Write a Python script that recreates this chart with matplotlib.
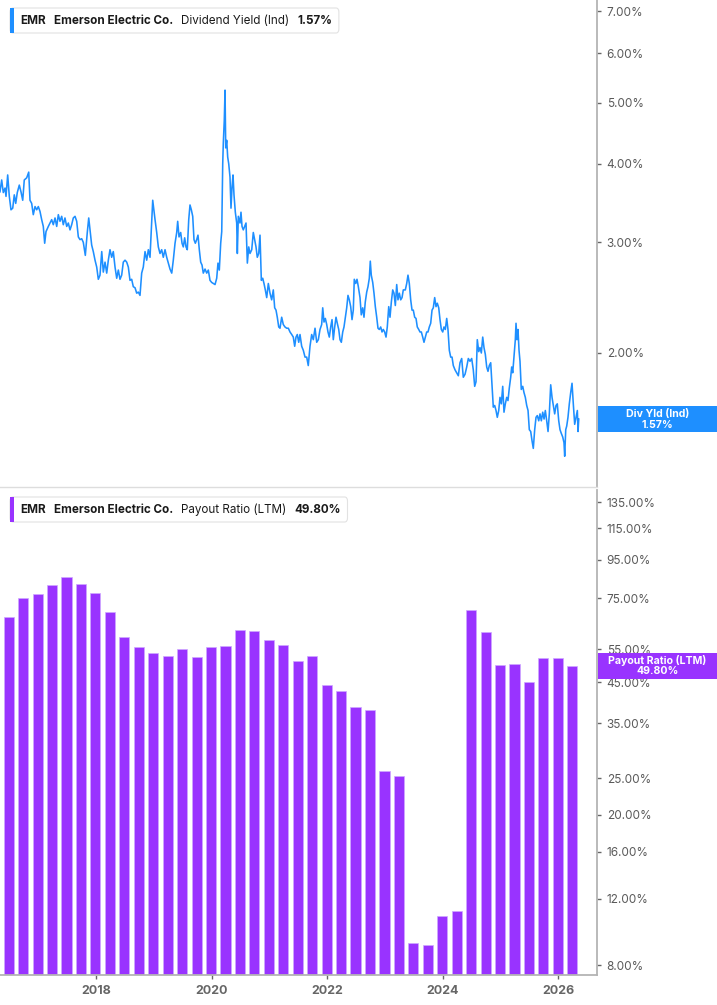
import matplotlib
matplotlib.use('Agg')
import matplotlib.pyplot as plt
from matplotlib.patches import FancyBboxPatch, Rectangle
from matplotlib.ticker import FixedLocator, NullLocator

plt.rcParams['font.family'] = ['Inter', 'DejaVu Sans']

# Dividend yield (Ind), % - decimal years
yield_dates = [
    2016.339, 2016.368, 2016.396, 2016.426, 2016.443, 2016.472, 2016.500, 2016.529, 2016.559, 2016.586,
    2016.611, 2016.638, 2016.673, 2016.702, 2016.732, 2016.759, 2016.801, 2016.836, 2016.858, 2016.887,
    2016.915, 2016.945, 2016.974, 2017.002, 2017.031, 2017.060, 2017.088, 2017.112, 2017.135, 2017.175,
    2017.204, 2017.233, 2017.261, 2017.291, 2017.320, 2017.348, 2017.377, 2017.406, 2017.434, 2017.463,
    2017.493, 2017.521, 2017.550, 2017.579, 2017.607, 2017.637, 2017.666, 2017.694, 2017.723, 2017.752,
    2017.780, 2017.815, 2017.849, 2017.874, 2017.896, 2017.925, 2017.953, 2017.983, 2018.012, 2018.040,
    2018.069, 2018.099, 2018.126, 2018.156, 2018.185, 2018.213, 2018.242, 2018.271, 2018.299, 2018.329,
    2018.358, 2018.386, 2018.415, 2018.444, 2018.472, 2018.502, 2018.531, 2018.559, 2018.588, 2018.617,
    2018.645, 2018.675, 2018.704, 2018.732, 2018.761, 2018.790, 2018.818, 2018.848, 2018.877, 2018.905,
    2018.934, 2018.981, 2019.021, 2019.050, 2019.078, 2019.107, 2019.136, 2019.164, 2019.194, 2019.223,
    2019.251, 2019.280, 2019.310, 2019.337, 2019.367, 2019.396, 2019.413, 2019.436, 2019.465, 2019.488,
    2019.510, 2019.534, 2019.557, 2019.579, 2019.604, 2019.626, 2019.649, 2019.673, 2019.695, 2019.718,
    2019.742, 2019.764, 2019.787, 2019.811, 2019.834, 2019.856, 2019.886, 2019.915, 2019.943, 2019.972,
    2020.001, 2020.029, 2020.059, 2020.088, 2020.110, 2020.133, 2020.157, 2020.175, 2020.192, 2020.202,
    2020.219, 2020.232, 2020.244, 2020.261, 2020.278, 2020.296, 2020.318, 2020.335, 2020.353, 2020.370,
    2020.387, 2020.410, 2020.434, 2020.445, 2020.462, 2020.491, 2020.508, 2020.526, 2020.548, 2020.572,
    2020.595, 2020.618, 2020.642, 2020.664, 2020.694, 2020.721, 2020.745, 2020.768, 2020.790, 2020.815,
    2020.837, 2020.860, 2020.884, 2020.906, 2020.929, 2020.953, 2020.981, 2021.010, 2021.039, 2021.067,
    2021.091, 2021.114, 2021.136, 2021.161, 2021.183, 2021.212, 2021.240, 2021.269, 2021.299, 2021.327,
    2021.356, 2021.386, 2021.413, 2021.437, 2021.460, 2021.482, 2021.507, 2021.529, 2021.558, 2021.586,
    2021.616, 2021.645, 2021.672, 2021.702, 2021.731, 2021.759, 2021.789, 2021.818, 2021.846, 2021.875,
    2021.904, 2021.922, 2021.944, 2021.967, 2021.991, 2022.013, 2022.036, 2022.060, 2022.083, 2022.105,
    2022.129, 2022.152, 2022.174, 2022.199, 2022.221, 2022.244, 2022.268, 2022.290, 2022.313, 2022.337,
    2022.359, 2022.382, 2022.406, 2022.429, 2022.451, 2022.468, 2022.493, 2022.515, 2022.538, 2022.567,
    2022.589, 2022.614, 2022.636, 2022.658, 2022.683, 2022.705, 2022.728, 2022.745, 2022.762, 2022.787,
    2022.809, 2022.832, 2022.856, 2022.878, 2022.901, 2022.925, 2022.948, 2022.970, 2022.994, 2023.017,
    2023.039, 2023.064, 2023.086, 2023.109, 2023.133, 2023.155, 2023.178, 2023.202, 2023.224, 2023.247,
    2023.271, 2023.294, 2023.316, 2023.351, 2023.375, 2023.397, 2023.420, 2023.444, 2023.467, 2023.489,
    2023.513, 2023.536, 2023.558, 2023.583, 2023.605, 2023.628, 2023.652, 2023.674, 2023.697, 2023.721,
    2023.743, 2023.766, 2023.790, 2023.813, 2023.835, 2023.859, 2023.882, 2023.904, 2023.929, 2023.951,
    2023.974, 2023.998, 2024.020, 2024.043, 2024.067, 2024.089, 2024.112, 2024.136, 2024.159, 2024.181,
    2024.211, 2024.240, 2024.268, 2024.297, 2024.326, 2024.354, 2024.384, 2024.413, 2024.441, 2024.470,
    2024.499, 2024.527, 2024.551, 2024.574, 2024.596, 2024.621, 2024.643, 2024.666, 2024.690, 2024.712,
    2024.735, 2024.759, 2024.781, 2024.804, 2024.828, 2024.851, 2024.873, 2024.897, 2024.920, 2024.942,
    2024.967, 2024.989, 2025.012, 2025.036, 2025.058, 2025.081, 2025.105, 2025.127, 2025.150, 2025.174,
    2025.191, 2025.209, 2025.231, 2025.254, 2025.266, 2025.283, 2025.300, 2025.318, 2025.335, 2025.357,
    2025.382, 2025.404, 2025.427, 2025.451, 2025.474, 2025.496, 2025.520, 2025.543, 2025.565, 2025.589,
    2025.612, 2025.634, 2025.659, 2025.681, 2025.704, 2025.728, 2025.751, 2025.773, 2025.797, 2025.820,
    2025.842, 2025.866, 2025.889, 2025.911, 2025.935, 2025.958, 2025.980, 2026.005, 2026.027, 2026.049,
    2026.074, 2026.096, 2026.108, 2026.126, 2026.143, 2026.165, 2026.188, 2026.212, 2026.235, 2026.257,
    2026.281, 2026.304, 2026.327, 2026.339, 2026.351,
]
yield_values = [
    3.61, 3.77, 3.60, 3.66, 3.55, 3.84, 3.55, 3.38, 3.40, 3.57,
    3.46, 3.60, 3.70, 3.61, 3.50, 3.77, 3.80, 3.88, 3.50, 3.46,
    3.32, 3.42, 3.38, 3.42, 3.36, 3.26, 3.18, 2.99, 3.12, 3.18,
    3.22, 3.26, 3.20, 3.28, 3.18, 3.32, 3.24, 3.30, 3.20, 3.28,
    3.18, 3.22, 3.14, 3.20, 3.28, 3.30, 3.24, 3.06, 3.03, 3.04,
    3.00, 2.86, 3.11, 3.28, 3.14, 2.97, 2.90, 2.81, 2.74, 2.62,
    2.66, 2.90, 2.69, 2.79, 2.68, 2.81, 2.92, 2.84, 2.90, 2.74,
    2.63, 2.71, 2.62, 2.66, 2.79, 2.81, 2.79, 2.74, 2.61, 2.62,
    2.55, 2.54, 2.49, 2.50, 2.47, 2.68, 2.74, 2.90, 2.81, 2.92,
    2.84, 3.50, 3.26, 3.11, 2.95, 2.88, 2.92, 2.84, 2.92, 2.84,
    2.78, 2.72, 2.68, 2.81, 2.99, 3.11, 3.24, 3.06, 3.11, 2.99,
    2.95, 3.05, 2.95, 2.92, 3.26, 3.44, 3.38, 3.30, 3.03, 2.99,
    3.03, 3.08, 2.92, 2.79, 2.76, 2.68, 2.72, 2.68, 2.71, 2.61,
    2.59, 2.58, 2.57, 2.63, 2.78, 2.71, 2.99, 3.12, 4.00, 4.31,
    4.69, 5.24, 4.24, 4.36, 4.10, 4.00, 3.81, 3.40, 3.67, 3.84,
    3.57, 3.35, 3.22, 2.88, 3.30, 3.22, 3.35, 3.18, 3.14, 3.18,
    3.22, 2.78, 2.95, 2.88, 2.92, 3.11, 3.03, 2.95, 2.84, 2.88,
    3.08, 2.61, 2.63, 2.58, 2.52, 2.45, 2.58, 2.49, 2.43, 2.52,
    2.36, 2.34, 2.28, 2.20, 2.19, 2.28, 2.22, 2.20, 2.19, 2.19,
    2.16, 2.14, 2.12, 2.05, 2.12, 2.14, 2.08, 2.14, 2.05, 2.02,
    1.97, 1.97, 1.91, 2.05, 2.14, 2.10, 2.19, 2.08, 2.10, 2.18,
    2.22, 2.36, 2.24, 2.27, 2.22, 2.16, 2.12, 2.20, 2.26, 2.10,
    2.20, 2.28, 2.23, 2.18, 2.10, 2.08, 2.16, 2.20, 2.28, 2.36,
    2.47, 2.43, 2.37, 2.26, 2.34, 2.62, 2.58, 2.62, 2.55, 2.45,
    2.30, 2.36, 2.28, 2.41, 2.50, 2.55, 2.63, 2.80, 2.66, 2.59,
    2.49, 2.37, 2.28, 2.19, 2.18, 2.20, 2.16, 2.18, 2.16, 2.12,
    2.20, 2.37, 2.28, 2.41, 2.52, 2.49, 2.38, 2.57, 2.43, 2.49,
    2.43, 2.45, 2.52, 2.52, 2.58, 2.66, 2.58, 2.43, 2.34, 2.34,
    2.28, 2.27, 2.20, 2.18, 2.16, 2.16, 2.12, 2.08, 2.12, 2.16,
    2.16, 2.20, 2.23, 2.34, 2.36, 2.45, 2.37, 2.40, 2.36, 2.26,
    2.18, 2.16, 2.20, 2.18, 2.27, 2.18, 2.02, 1.97, 1.97, 1.91,
    1.88, 1.86, 1.84, 1.93, 1.96, 1.83, 1.85, 1.90, 1.96, 1.94,
    1.96, 1.88, 1.77, 1.80, 2.10, 2.01, 2.04, 2.00, 2.12, 2.04,
    1.99, 1.90, 1.87, 1.91, 1.93, 1.77, 1.64, 1.65, 1.62, 1.58,
    1.62, 1.70, 1.66, 1.77, 1.61, 1.66, 1.70, 1.68, 1.76, 1.83,
    1.90, 1.86, 1.97, 2.10, 2.23, 2.10, 2.18, 2.02, 1.94, 1.75,
    1.77, 1.73, 1.70, 1.65, 1.62, 1.51, 1.50, 1.45, 1.41, 1.51,
    1.58, 1.59, 1.56, 1.60, 1.56, 1.61, 1.57, 1.62, 1.56, 1.50,
    1.60, 1.78, 1.70, 1.65, 1.60, 1.65, 1.66, 1.56, 1.51, 1.49,
    1.47, 1.44, 1.37, 1.51, 1.53, 1.58, 1.66, 1.73, 1.79, 1.66,
    1.54, 1.58, 1.62, 1.50, 1.57,
]

# Payout ratio (LTM), % - quarterly
payout_dates = [
    2016.49, 2016.74, 2016.99, 2017.24, 2017.49, 2017.74, 2017.99, 2018.24,
    2018.49, 2018.74, 2018.99, 2019.24, 2019.49, 2019.74, 2019.99, 2020.24,
    2020.49, 2020.74, 2020.99, 2021.24, 2021.49, 2021.74, 2021.99, 2022.24,
    2022.49, 2022.74, 2022.99, 2023.24, 2023.49, 2023.74, 2023.99, 2024.24,
    2024.49, 2024.74, 2024.99, 2025.24, 2025.49, 2025.74, 2025.99, 2026.24,
]
payout_values = [
    66.8, 75.0, 77.0, 81.3, 85.3, 81.7, 77.5, 69.0,
    59.1, 55.7, 53.8, 52.7, 55.0, 52.4, 55.7, 56.1,
    61.7, 61.5, 58.1, 56.5, 51.3, 52.7, 44.1, 42.5,
    38.6, 37.9, 26.2, 25.4, 9.15, 9.04, 10.8, 11.1,
    69.9, 61.1, 49.9, 50.2, 45.1, 52.1, 52.1, 49.8,
]

top_ticks = [7, 6, 5, 4, 3, 2]
bottom_ticks = [135, 115, 95, 75, 55, 45, 35, 25, 20, 16, 12, 8]
year_ticks = [2018, 2020, 2022, 2024, 2026]

blue = '#1e8fff'
purple = '#9933ff'
W, H = 717, 1005

fig = plt.figure(figsize=(W / 100, H / 100), dpi=100)
fig.patch.set_facecolor('white')

ax1 = fig.add_axes([0, 1 - 487 / H, 597 / W, 487 / H])
ax2 = fig.add_axes([0, 1 - 975 / H, 597 / W, 485 / H])

xlim = (2016.339, 2026.667)

ax1.plot(yield_dates, yield_values, color=blue, lw=1.15)
ax1.set_yscale('log')
ax1.set_ylim(1.224, 7.29)

# bars start below the visible range so they reach the x axis
ax2.set_yscale('log')
base = 1.0
ax2.bar(payout_dates, [v - base for v in payout_values], width=0.175,
        bottom=base, color=purple, edgecolor='#cfa8ff', linewidth=0.5)
ax2.set_ylim(7.53, 145.4)

for ax, ticks in ((ax1, top_ticks), (ax2, bottom_ticks)):
    ax.set_xlim(*xlim)
    ax.yaxis.tick_right()
    ax.yaxis.set_major_locator(FixedLocator(ticks))
    ax.yaxis.set_minor_locator(NullLocator())
    ax.set_yticklabels(['%.2f%%' % t for t in ticks])
    ax.tick_params(axis='y', length=3, width=1, color='#666666', pad=4,
                   labelsize=8.5, labelcolor='#5a5a5a')
    ax.spines['top'].set_visible(False)
    ax.spines['left'].set_visible(False)
    ax.spines['right'].set_color('#b4b4b4')
    ax.spines['right'].set_linewidth(1.3)

ax1.spines['bottom'].set_color('#dddddd')
ax1.spines['bottom'].set_linewidth(1.0)
ax1.set_xticks([])

ax2.spines['bottom'].set_color('#b4b4b4')
ax2.spines['bottom'].set_linewidth(1.3)
ax2.set_xticks(year_ticks)
ax2.set_xticklabels([str(y) for y in year_ticks])
ax2.xaxis.set_minor_locator(NullLocator())
ax2.tick_params(axis='x', length=3, width=1, color='#666666', pad=4,
                labelsize=9)
for lbl in ax2.get_xticklabels():
    lbl.set_fontweight('bold')
    lbl.set_color('#666666')

fig.canvas.draw()
renderer = fig.canvas.get_renderer()


def legend(top_px, color, parts):
    x = 20
    for text, weight in parts:
        t = fig.text(x / W, 1 - (top_px + 12.5) / H, text, fontsize=8.4,
                     fontweight=weight, color='#1a1a1a', va='center',
                     ha='left', zorder=7)
        ext = t.get_window_extent(renderer)
        right = ext.x1
        x = ext.x1 + 8
    box_w = right + 7 - 10
    box = FancyBboxPatch((10 / W, 1 - (top_px + 25) / H), box_w / W, 25 / H,
                         boxstyle='round,pad=0,rounding_size=0.004',
                         transform=fig.transFigure, facecolor='white',
                         edgecolor='#e2e2e2', linewidth=0.8, zorder=5)
    fig.patches.append(box)
    bar = Rectangle((10 / W, 1 - (top_px + 25) / H), 3.5 / W, 25 / H,
                    transform=fig.transFigure, facecolor=color,
                    edgecolor='none', zorder=6)
    fig.patches.append(bar)


legend(8, blue, [('EMR', 'bold'), ('Emerson Electric Co.', 'bold'),
                 ('Dividend Yield (Ind)', 'normal'), ('1.57%', 'bold')])
legend(497, purple, [('EMR', 'bold'), ('Emerson Electric Co.', 'bold'),
                     ('Payout Ratio (LTM)', 'normal'), ('49.80%', 'bold')])


def value_tag(ax, value, color, line1, line2):
    ypix = ax.transData.transform((xlim[0], value))[1]
    yc = ypix / fig.bbox.height
    hh = 26 / H
    rect = Rectangle((598 / W, yc - hh / 2), 1 - 598 / W, hh,
                     transform=fig.transFigure, facecolor=color,
                     edgecolor='none', zorder=8, clip_on=False)
    fig.patches.append(rect)
    fig.text(657.5 / W, yc + 5.5 / H, line1, color='white', fontsize=7.6,
             fontweight='bold', ha='center', va='center', zorder=9)
    fig.text(657.5 / W, yc - 5.5 / H, line2, color='white', fontsize=7.6,
             fontweight='bold', ha='center', va='center', zorder=9)


value_tag(ax1, yield_values[-1], blue, 'Div Yld (Ind)', '1.57%')
value_tag(ax2, payout_values[-1], purple, 'Payout Ratio (LTM)', '49.80%')

fig.savefig('out.png', dpi=100, facecolor='white')
